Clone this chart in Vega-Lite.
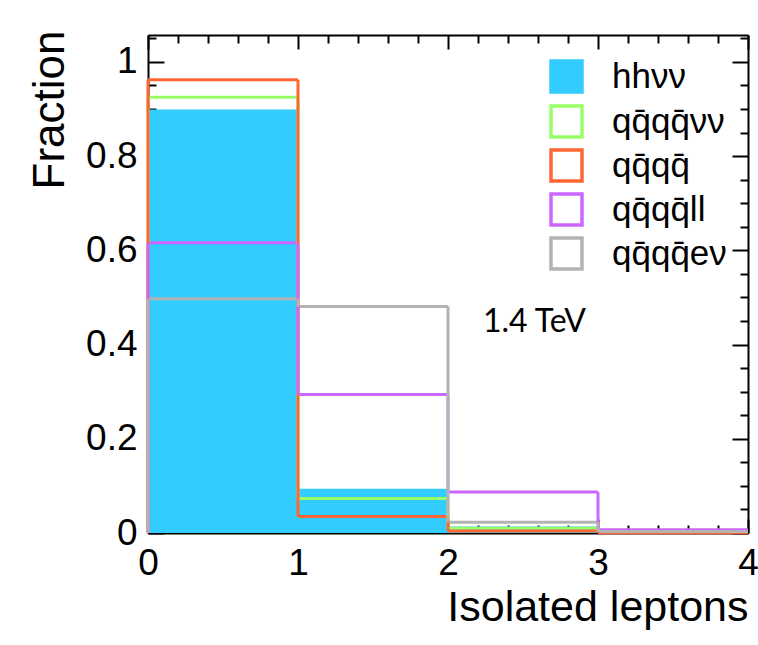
{
  "$schema": "https://vega.github.io/schema/vega-lite/v6.json",
  "width": 600,
  "height": 498,
  "autosize": "none",
  "padding": {"left": 148, "top": 35, "right": 10, "bottom": 112},
  "background": "white",
  "config": {
    "view": {"stroke": null},
    "axis": {
      "labelFont": "Liberation Sans", "titleFont": "Liberation Sans",
      "labelColor": "black", "titleColor": "black", "tickColor": "black", "domainColor": "black",
      "tickWidth": 2, "domainWidth": 2, "grid": false, "zindex": 1, "labelFlush": false,
      "labelFontSize": 37, "titleFontSize": 43, "titleFontWeight": "normal"
    },
    "legend": {
      "symbolType": "square", "symbolSize": 960,
      "symbolStrokeWidth": 3.5, "labelFont": "Liberation Sans", "labelFontSize": 35, "labelColor": "black", "labelLimit": 300,
      "rowPadding": -1, "labelOffset": 28, "padding": 0
    }
  },
  "datasets": {
    "hist": [
      {"series": "hhνν", "lo": 0, "hi": 1, "value": 0.899},
      {"series": "hhνν", "lo": 1, "hi": 2, "value": 0.094},
      {"series": "hhνν", "lo": 2, "hi": 3, "value": 0.014},
      {"series": "hhνν", "lo": 3, "hi": 4, "value": 0.001},
      {"series": "qq̄qq̄νν", "lo": 0, "hi": 1, "value": 0.925},
      {"series": "qq̄qq̄νν", "lo": 1, "hi": 2, "value": 0.073},
      {"series": "qq̄qq̄νν", "lo": 2, "hi": 3, "value": 0.010},
      {"series": "qq̄qq̄νν", "lo": 3, "hi": 4, "value": 0.001},
      {"series": "qq̄qq̄", "lo": 0, "hi": 1, "value": 0.962},
      {"series": "qq̄qq̄", "lo": 1, "hi": 2, "value": 0.035},
      {"series": "qq̄qq̄", "lo": 2, "hi": 3, "value": 0.004},
      {"series": "qq̄qq̄", "lo": 3, "hi": 4, "value": 0.0005},
      {"series": "qq̄qq̄ll", "lo": 0, "hi": 1, "value": 0.616},
      {"series": "qq̄qq̄ll", "lo": 1, "hi": 2, "value": 0.294},
      {"series": "qq̄qq̄ll", "lo": 2, "hi": 3, "value": 0.087},
      {"series": "qq̄qq̄ll", "lo": 3, "hi": 4, "value": 0.007},
      {"series": "qq̄qq̄eν", "lo": 0, "hi": 1, "value": 0.497},
      {"series": "qq̄qq̄eν", "lo": 1, "hi": 2, "value": 0.481},
      {"series": "qq̄qq̄eν", "lo": 2, "hi": 3, "value": 0.023},
      {"series": "qq̄qq̄eν", "lo": 3, "hi": 4, "value": 0.003}
    ],
    "note": [{"x": 2.233, "y": 0.4257, "label": "1.4 TeV"}]
  },
  "resolve": {"axis": {"x": "independent", "y": "independent"}, "scale": {"x": "shared", "y": "shared", "stroke": "shared"}},
  "layer": [
    {
      "data": {"name": "hist"},
      "transform": [{"filter": "datum.series === 'hhνν'"}],
      "mark": {"type": "rect"},
      "encoding": {
        "x": {"field": "lo", "type": "quantitative", "scale": {"domain": [0, 4], "nice": false, "zero": false},
          "axis": {"orient": "bottom", "values": [0, 1, 2, 3, 4], "format": "~g", "tickSize": -14, "labelPadding": 26, "domain": true,
            "title": "Isolated leptons", "titleAnchor": "end", "titleBaseline": "alphabetic", "titleY": 87}},
        "x2": {"field": "hi"},
        "y": {"field": "value", "type": "quantitative", "scale": {"domain": [0, 1.057], "nice": false, "zero": false},
          "axis": {"orient": "left", "values": [0, 0.2, 0.4, 0.6, 0.8, 1], "format": "~g", "tickSize": -16, "labelPadding": 27, "domain": true,
            "title": "Fraction", "titleAnchor": "end", "titleFontSize": 44, "titleX": -76, "titleY": -5}},
        "y2": {"datum": 0},
        "fill": {"field": "series", "type": "nominal",
          "scale": {"domain": ["hhνν"], "range": ["#33ccff"]},
          "legend": {"title": null, "orient": "none", "legendX": 401, "legendY": 24, "symbolStrokeColor": "#33ccff", "symbolStrokeWidth": 3.5}}
      }
    },
    {
      "data": {"name": "hist"},
      "transform": [{"filter": "datum.series !== 'hhνν'"}],
      "mark": {"type": "rule", "strokeWidth": 3},
      "encoding": {
        "x": {"field": "lo", "type": "quantitative",
          "axis": {"orient": "top", "values": [0, 1, 2, 3, 4], "tickSize": -14, "labels": false, "domain": true, "title": null}},
        "x2": {"field": "hi"},
        "y": {"field": "value", "type": "quantitative",
          "axis": {"orient": "right", "values": [0, 0.2, 0.4, 0.6, 0.8, 1], "tickSize": -16, "labels": false, "domain": true, "title": null}},
        "stroke": {"field": "series", "type": "nominal",
          "scale": {"domain": ["qq̄qq̄νν", "qq̄qq̄", "qq̄qq̄ll", "qq̄qq̄eν"], "range": ["#99ff66", "#ff6633", "#cc66ff", "#b3b3b3"]},
          "legend": {"title": null, "orient": "none", "legendX": 401, "legendY": 69, "symbolFillColor": "transparent"}}
      }
    },
    {
      "data": {"name": "hist"},
      "transform": [
        {"filter": "datum.series !== 'hhνν'"},
        {"window": [{"op": "lag", "field": "value", "as": "prev"}], "groupby": ["series"], "sort": [{"field": "lo"}]},
        {"filter": "datum.lo > 0"}
      ],
      "mark": {"type": "rule", "strokeWidth": 3},
      "encoding": {
        "x": {"field": "lo", "type": "quantitative",
          "axis": {"orient": "bottom", "values": [0.2, 0.4, 0.6, 0.8, 1.2, 1.4, 1.6, 1.8, 2.2, 2.4, 2.6, 2.8, 3.2, 3.4, 3.6, 3.8], "tickSize": -8, "labels": false, "domain": false, "title": null}},
        "y": {"field": "value", "type": "quantitative",
          "axis": {"orient": "left", "values": [0.05, 0.1, 0.15, 0.25, 0.3, 0.35, 0.45, 0.5, 0.55, 0.65, 0.7, 0.75, 0.85, 0.9, 0.95, 1.05], "tickSize": -8, "labels": false, "domain": false, "title": null}},
        "y2": {"field": "prev"},
        "stroke": {"field": "series", "type": "nominal", "legend": {"title": null, "orient": "none", "legendX": 401, "legendY": 69, "symbolFillColor": "transparent"}}
      }
    },
    {
      "data": {"name": "hist"},
      "transform": [{"filter": "datum.series !== 'hhνν' && datum.lo === 0"}],
      "mark": {"type": "rule", "strokeWidth": 3},
      "encoding": {
        "x": {"field": "lo", "type": "quantitative",
          "axis": {"orient": "top", "values": [0.2, 0.4, 0.6, 0.8, 1.2, 1.4, 1.6, 1.8, 2.2, 2.4, 2.6, 2.8, 3.2, 3.4, 3.6, 3.8], "tickSize": -8, "labels": false, "domain": false, "title": null}},
        "y": {"field": "value", "type": "quantitative",
          "axis": {"orient": "right", "values": [0.05, 0.1, 0.15, 0.25, 0.3, 0.35, 0.45, 0.5, 0.55, 0.65, 0.7, 0.75, 0.85, 0.9, 0.95, 1.05], "tickSize": -8, "labels": false, "domain": false, "title": null}},
        "y2": {"datum": 0},
        "stroke": {"field": "series", "type": "nominal", "legend": {"title": null, "orient": "none", "legendX": 401, "legendY": 69, "symbolFillColor": "transparent"}}
      }
    },
    {
      "data": {"name": "note"},
      "mark": {"type": "text", "font": "Lato", "fontSize": 32, "align": "left", "baseline": "alphabetic", "color": "black"},
      "encoding": {
        "x": {"field": "x", "type": "quantitative", "axis": null},
        "y": {"field": "y", "type": "quantitative", "axis": null},
        "text": {"field": "label"}
      }
    }
  ]
}
